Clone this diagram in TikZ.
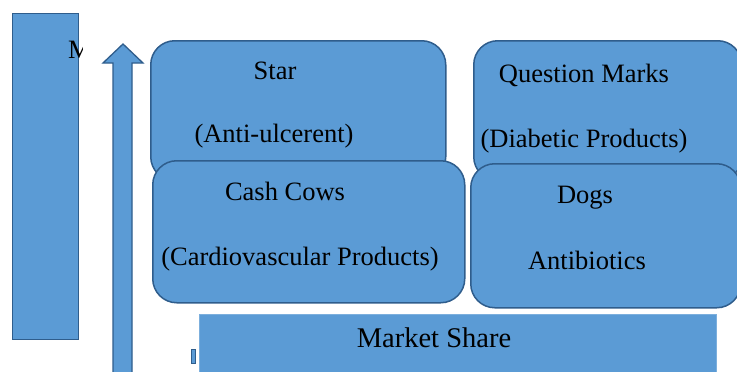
\documentclass[tikz,border=0pt]{standalone}
\usepackage{fontspec}
\setmainfont{Liberation Serif}
\definecolor{boxfill}{HTML}{5B9BD5}
\definecolor{boxline}{HTML}{2F5D8C}
\tikzset{
  x=1pt, y=-1pt,
  quad/.style={draw=boxline, fill=boxfill, line width=1.5pt, rounded corners=24pt, inner sep=0pt, anchor=north west},
  plainbox/.style={draw=boxline, fill=boxfill, line width=1.3pt, inner sep=0pt, anchor=north west},
  lbl/.style={anchor=base, inner sep=0pt, font=\fontsize{26.5}{30}\selectfont},
}
\begin{document}
\begin{tikzpicture}
\useasboundingbox (0,0) rectangle (737,372);
\clip (0,0) rectangle (737,372);
\fill[white] (0,0) rectangle (737,372);
% left vertical rectangle
\node[plainbox, minimum width=66pt, minimum height=326pt] (vert) at (12,13) {};
\begin{scope}
\clip (0,0) rectangle (82,372);
\node[lbl, anchor=base west] (mlbl) at (68,58) {M};
\end{scope}
% up arrow
\draw[draw=boxline, fill=boxfill, line width=1.3pt, line join=miter]
  (113,380) -- (113,63) -- (103,63) -- (123,44) -- (143,63) -- (132,63) -- (132,380) -- cycle;
% quadrant boxes
\node[quad, minimum width=295pt, minimum height=140pt] (star) at (150,40) {};
\node[quad, minimum width=268pt, minimum height=140pt] (qm) at (473,40) {};
\node[quad, minimum width=312pt, minimum height=142pt] (cash) at (152,160) {};
\node[quad, minimum width=270pt, minimum height=144pt] (dogs) at (470,163) {};
% market share bar
\node[draw=boxfill!80!white, fill=boxfill, line width=0.6pt, inner sep=0pt, anchor=north west,
      minimum width=517pt, minimum height=70pt] (share) at (199,314) {};
% small clipped mark
\node[draw=boxline, fill=boxfill, line width=1.3pt, inner sep=0pt, anchor=north west,
      minimum width=3.5pt, minimum height=14pt] (mark) at (191,348.5) {};
% labels
\node[lbl] (t1) at (275,79) {Star};
\node[lbl] (t2) at (274,142) {(Anti-ulcerent)};
\node[lbl] (t3) at (584,82) {Question Marks};
\node[lbl] (t4) at (584,147) {(Diabetic Products)};
\node[lbl] (t5) at (285,200) {Cash Cows};
\node[lbl] (t6) at (300,265) {(Cardiovascular Products)};
\node[lbl] (t7) at (585,203) {Dogs};
\node[lbl] (t8) at (587,269) {Antibiotics};
\node[lbl, font=\fontsize{28.5}{32}\selectfont] (t9) at (434,347) {Market Share};
\end{tikzpicture}
\end{document}
